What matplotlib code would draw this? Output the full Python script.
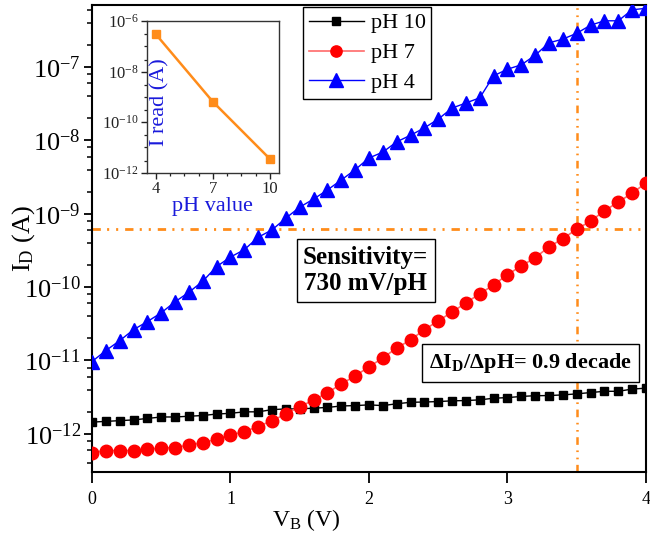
import numpy as np
import matplotlib
matplotlib.use("Agg")
import matplotlib.pyplot as plt
from matplotlib.ticker import FixedLocator, FuncFormatter, LogLocator, NullFormatter, AutoMinorLocator

plt.rcParams['font.family'] = ['Liberation Serif', 'DejaVu Serif']
plt.rcParams['mathtext.fontset'] = 'custom'
plt.rcParams['mathtext.rm'] = 'Liberation Serif'
plt.rcParams['mathtext.bf'] = 'Liberation Serif:bold'
plt.rcParams['mathtext.default'] = 'regular'
plt.rcParams['lines.scale_dashes'] = False

# ---- data ----
vb = [round(0.1 * i, 1) for i in range(41)]

log_ph10 = [-11.84, -11.83, -11.82, -11.81, -11.79, -11.77, -11.77, -11.76, -11.75, -11.73,
            -11.72, -11.70, -11.70, -11.67, -11.66, -11.66, -11.65, -11.64, -11.62, -11.615,
            -11.605, -11.615, -11.59, -11.57, -11.566, -11.56, -11.55, -11.546, -11.537, -11.514,
            -11.506, -11.49, -11.48, -11.478, -11.469, -11.455, -11.437, -11.42, -11.42, -11.39,
            -11.377]
log_ph7 = [-12.255, -12.228, -12.228, -12.228, -12.209, -12.195, -12.187, -12.15, -12.12, -12.073,
           -12.014, -11.97, -11.90, -11.82, -11.73, -11.63, -11.54, -11.44, -11.32, -11.21,
           -11.087, -10.965, -10.83, -10.72, -10.58, -10.46, -10.34, -10.215, -10.09, -9.97,
           -9.83, -9.71, -9.60, -9.45, -9.34, -9.21, -9.10, -8.96, -8.84, -8.72,
           -8.58]
log_ph4 = [-11.015, -10.865, -10.73, -10.58, -10.47, -10.35, -10.20, -10.07, -9.92, -9.72,
           -9.59, -9.49, -9.32, -9.22, -9.06, -8.91, -8.80, -8.676, -8.54, -8.40,
           -8.24, -8.16, -8.02, -7.93, -7.83, -7.71, -7.56, -7.49, -7.42, -7.12,
           -7.03, -6.97, -6.84, -6.67, -6.62, -6.54, -6.43, -6.37, -6.37, -6.22,
           -6.20]

ph_values = [4, 7, 10]
i_read = [3.0e-7, 6.4e-10, 3.5e-12]

v_read = 3.5
i_ref = 6.2e-10

series_labels = ['pH 10', 'pH 7', 'pH 4']

ph10 = [10 ** v for v in log_ph10]
ph7 = [10 ** v for v in log_ph7]
ph4 = [10 ** v for v in log_ph4]

# ---- figure ----
fig = plt.figure(figsize=(6.5, 5.39), dpi=100)
ax = fig.add_axes([0.1415, 0.1243, 0.8523, 0.8664])

orange = '#ff8c1a'
ax.axhline(i_ref, color=orange, lw=2.0, dashes=(6, 4.5, 1.5, 5, 1.5, 5), zorder=1)
ax.axvline(v_read, color=orange, lw=1.8, dashes=(5.5, 4, 1.2, 4, 1.2, 4), zorder=1)

ax.plot(vb, ph10, color='black', lw=1.0, marker='s', ms=6.2, mfc='black', mec='black',
        label=series_labels[0], zorder=3)
ax.plot(vb, ph7, color='#ff6a6a', lw=1.2, marker='o', ms=9, mfc='#ff0000', mec='#ff0000',
        label=series_labels[1], zorder=3)
ax.plot(vb, ph4, color='#0000ff', lw=1.0, marker='^', ms=10.5, mfc='#0000ff', mec='#0000ff',
        label=series_labels[2], zorder=3)

ax.set_yscale('log')
ax.set_xlim(0, 4)
ax.set_ylim(10 ** -12.52, 10 ** -6.155)
ax.xaxis.set_major_locator(FixedLocator([0, 1, 2, 3, 4]))
ax.yaxis.set_major_locator(FixedLocator([10.0 ** k for k in range(-12, -6)]))
ax.yaxis.set_major_formatter(FuncFormatter(lambda v, p: r'$10^{%d}$' % round(np.log10(v))))
ax.yaxis.set_minor_locator(LogLocator(base=10, subs=(2, 4, 6, 8), numticks=20))
ax.yaxis.set_minor_formatter(NullFormatter())

ax.tick_params(axis='x', which='major', direction='out', length=8, width=1.3, labelsize=13, pad=6,
               top=False)
ax.tick_params(axis='y', which='major', direction='out', length=6, width=1.3, labelsize=19, pad=2,
               right=False)
ax.tick_params(axis='y', which='minor', direction='out', length=3.5, width=1.1, right=False)
for s in ax.spines.values():
    s.set_linewidth(1.5)

ax.set_xlabel(r'V$_{\mathrm{B}}$ (V)', fontsize=17)
ax.xaxis.set_label_coords(0.386, -0.075)
ax.set_ylabel(r'I$_{\mathrm{D}}$ (A)', fontsize=19)
ax.yaxis.set_label_coords(-0.1, 0.5)

leg = ax.legend(loc='upper left', bbox_to_anchor=(0.381, 0.995), fontsize=16, frameon=True,
                fancybox=False, edgecolor='black', framealpha=1, borderaxespad=0,
                borderpad=0.25, handlelength=2.5, handletextpad=0.3, labelspacing=0.42,
                markerscale=0.9)
leg.get_frame().set_linewidth(1.0)

ax.text(0.494, 0.4315, 'Sensitivity=\n730 mV/pH', transform=ax.transAxes, fontsize=18,
        fontweight='bold', ha='center', va='center', linespacing=1.2,
        bbox=dict(boxstyle='square,pad=0.25', fc='white', ec='black', lw=1.0), zorder=4)
ax.text(0.7915, 0.2334, r'$\mathbf{\Delta I_{D}/\Delta pH}$= 0.9 decade', transform=ax.transAxes,
        fontsize=16, fontweight='bold', ha='center', va='center',
        bbox=dict(boxstyle='square,pad=0.3', fc='white', ec='black', lw=1.0), zorder=4)

# ---- inset ----
ins = fig.add_axes([0.226, 0.6796, 0.203, 0.2814])
ins.plot(ph_values, i_read, color=orange, lw=1.8, marker='s', ms=6, mfc=orange, mec=orange)
ins.set_yscale('log')
ins.set_xlim(3.53, 10.47)
ins.set_ylim(1e-12, 1e-6)
ins.xaxis.set_major_locator(FixedLocator([4, 7, 10]))
ins.xaxis.set_minor_locator(AutoMinorLocator(4))
ins.yaxis.set_major_locator(FixedLocator([1e-12, 1e-10, 1e-8, 1e-6]))
ins.yaxis.set_major_formatter(FuncFormatter(lambda v, p: r'$10^{%d}$' % round(np.log10(v))))
ins.yaxis.set_minor_locator(FixedLocator([1e-11, 1e-9, 1e-7, 3e-12, 3e-10, 3e-8, 3e-11, 3e-9, 3e-7]))
ins.yaxis.set_minor_formatter(NullFormatter())
ins.tick_params(which='major', direction='out', length=4, width=1.0, labelsize=12, pad=2,
                colors='#222222', top=False, right=False)
ins.tick_params(which='minor', direction='out', length=2.5, width=0.9, top=False, right=False,
                colors='#222222')
for s in ins.spines.values():
    s.set_linewidth(1.0)
    s.set_color('#333333')
ins.set_xlabel('pH value', fontsize=16, color='#1a1adb', labelpad=0)
ins.set_ylabel('I read (A)', fontsize=16, color='#1a1adb')
ins.yaxis.set_label_coords(0.17, 0.466)

fig.savefig('out.png', dpi=100)
